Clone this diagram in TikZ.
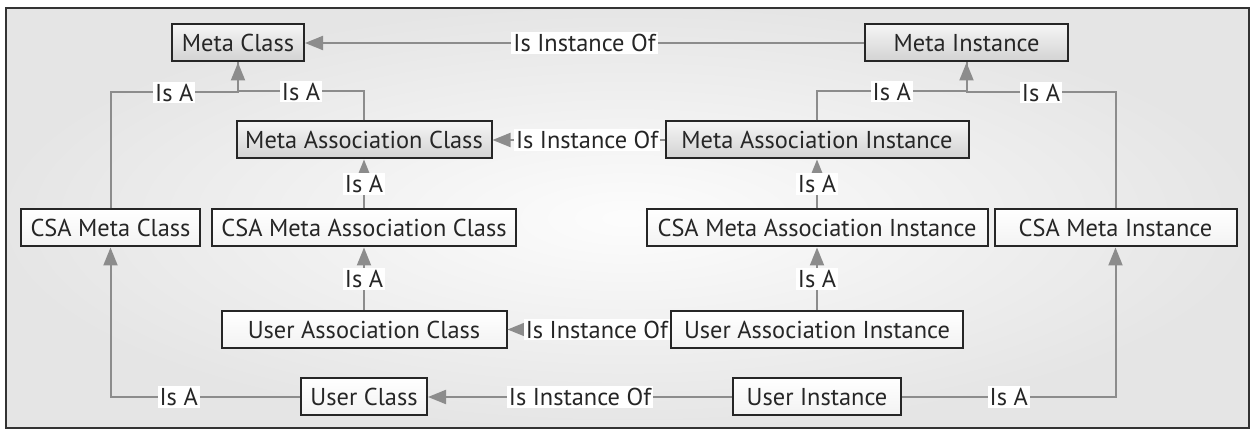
\documentclass[tikz,border=0pt]{standalone}
\usepackage{fontspec}
\setmainfont{PT Sans}
\usepackage{tikz}
\usetikzlibrary{arrows.meta, positioning, shadings}
\tikzstyle{metabox} = [rectangle, minimum height=18.5pt, inner sep=2pt, text centered, draw=black!85, line width=1pt, top color=gray!8, bottom color=gray!35]
\tikzstyle{userbox} = [rectangle, minimum height=18.5pt, inner sep=2pt, text centered, draw=black!85, line width=1pt, top color=white, bottom color=gray!10]
\tikzstyle{relation} = [fill=white, inner sep=1pt, text=black!85]
\tikzstyle{arrow} = [line width=1pt, draw=black!45, -{Triangle[length=9pt, width=7pt]}]
\tikzstyle{link} = [line width=1pt, draw=black!45]

\begin{document}
\begin{tikzpicture}[node distance=44pt, font=\fontsize{12.2}{14}\selectfont, text=black!85]

		% Frame
		\useasboundingbox (0,0) rectangle (626.5pt,-216pt);
		\draw [line width=1.2pt, draw=black!80, shading=radial, inner color=gray!2, outer color=gray!20] (3pt,-4pt) rectangle (624.5pt,-214pt);

		% Nodes
		\node (meta_class) [metabox, minimum width=66pt] at (119pt,-21.5pt) {Meta Class};
		\node (meta_instance) [metabox, minimum width=101.5pt] at (483.25pt,-21.5pt) {Meta Instance};
		\node (meta_assoc_class) [metabox, minimum width=127.5pt, below of=meta_class, xshift=63pt, yshift=-4.5pt] {Meta Association Class};
		\node (meta_assoc_instance) [metabox, minimum width=151.5pt, below of=meta_instance, xshift=-74.75pt, yshift=-4.5pt] {Meta Association Instance};
		\node (csa_assoc_class) [userbox, minimum width=152pt, below of=meta_assoc_class] {CSA Meta Association Class};
		\node (csa_assoc_instance) [userbox, minimum width=170.5pt, below of=meta_assoc_instance] {CSA Meta Association Instance};
		\node (csa_class) [userbox, minimum width=89.5pt, left=5pt of csa_assoc_class] {CSA Meta Class};
		\node (csa_instance) [userbox, minimum width=121pt, right=2.5pt of csa_assoc_instance] {CSA Meta Instance};
		\node (user_assoc_class) [userbox, minimum width=142.5pt, below of=csa_assoc_class, yshift=-6.75pt] {User Association Class};
		\node (user_assoc_instance) [userbox, minimum width=146pt, below of=csa_assoc_instance, yshift=-6.75pt] {User Association Instance};
		\node (user_class) [userbox, minimum width=63pt, below of=user_assoc_class, yshift=10.25pt] {User Class};
		\node (user_instance) [userbox, minimum width=84pt, below of=user_assoc_instance, yshift=10.25pt] {User Instance};

		% Is Instance Of
		\draw [arrow] (meta_instance) -- node[relation] {Is Instance Of} (meta_class);
		\draw [arrow] (meta_assoc_instance) -- node[relation, pos=0.45] {Is Instance Of} (meta_assoc_class);
		\draw [arrow] (user_assoc_instance) -- node[relation, pos=0.45] {Is Instance Of} (user_assoc_class);
		\draw [arrow] (user_instance) -- node[relation] {Is Instance Of} (user_class);

		% Is A
		\draw [arrow] (meta_assoc_class.north) -- ++(0,14.5pt) -| node[relation, pos=0.25] {Is A} (meta_class.south);
		\draw [link] (csa_class.north) -- ++(0,58pt) -| node[relation, pos=0.25] {Is A} (meta_class.south);
		\draw [arrow] (meta_assoc_instance.north) -- ++(0,14.5pt) -| node[relation, pos=0.25] {Is A} (meta_instance.south);
		\draw [link] (csa_instance.north) -- ++(0,58pt) -| node[relation, pos=0.25] {Is A} (meta_instance.south);
		\draw [arrow] (csa_assoc_class) -- node[relation] {Is A} (meta_assoc_class);
		\draw [arrow] (csa_assoc_instance) -- node[relation] {Is A} (meta_assoc_instance);
		\draw [arrow] (user_assoc_class) -- node[relation] {Is A} (csa_assoc_class);
		\draw [arrow] (user_assoc_instance) -- node[relation] {Is A} (csa_assoc_instance);
		\draw [arrow] (user_class.west) -| node[relation, pos=0.32] {Is A} (csa_class.south);
		\draw [arrow] (user_instance.east) -| node[relation, pos=0.25] {Is A} (csa_instance.south);

	\end{tikzpicture}
\end{document}
